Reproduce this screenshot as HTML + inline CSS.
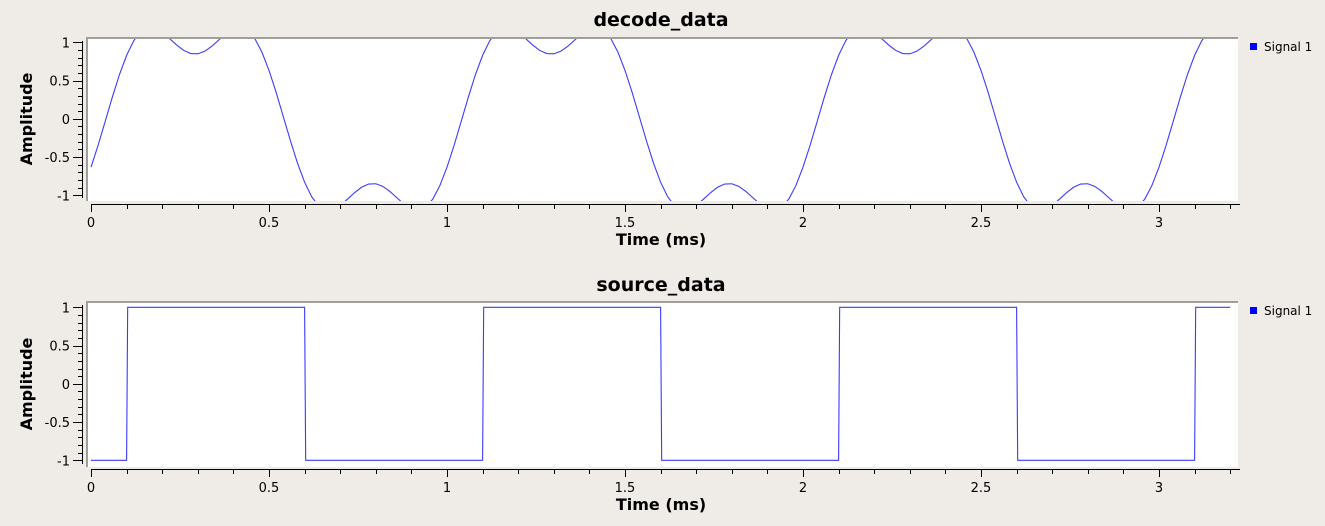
<!DOCTYPE html>
<html><head><meta charset="utf-8"><style>
html,body{margin:0;padding:0;background:#efebe7;}
svg{display:block;font-family:"DejaVu Sans","Liberation Sans",sans-serif;}
</style></head><body>
<svg id="chart" width="1325" height="526" viewBox="0 0 1325 526"></svg>
<script>
const decodePeriod = [-0.633,-0.346,-0.032,0.284,0.579,0.829,1.020,1.141,1.194,1.186,1.133,1.052,0.967,0.895,0.853,0.849,0.884,0.951,1.035,1.118,1.178,1.197,1.157,1.050,0.873,0.633,0.346,0.032,-0.284,-0.579,-0.829,-1.020,-1.141,-1.194,-1.186,-1.133,-1.052,-0.967,-0.895,-0.853,-0.849,-0.884,-0.951,-1.035,-1.118,-1.178,-1.197,-1.157,-1.050,-0.873];
const decodeStep = 0.02;
const decodeEnd = 3.2;
// source_data: square wave transitions (ms) and levels
const sourceTimes = [0, 0.1, 0.6, 1.1, 1.6, 2.1, 2.6, 3.1, 3.2];
const sourceLevels = [-1, 1, -1, 1, -1, 1, -1, 1];
const xTicks = [0, 0.5, 1, 1.5, 2, 2.5, 3];
const xTickLabels = ["0","0.5","1","1.5","2","2.5","3"];
const yTicks = [1, 0.5, 0, -0.5, -1];
const yTickLabels = ["1","0.5","0","-0.5","-1"];

const NS = "http://www.w3.org/2000/svg";
const svg = document.getElementById("chart");
function mk(tag, attrs, parent){const e=document.createElementNS(NS,tag);for(const k in attrs)e.setAttribute(k,attrs[k]);(parent||svg).appendChild(e);return e;}

function panel(cfg){
  const g = mk("g",{});
  
  
  const xS = t => 91 + t*356;
  const yS = v => cfg.y1 + (1 - v)/2*(cfg.ym1 - cfg.y1);
  const title = mk("text",{x:661,y:cfg.titleY,"text-anchor":"middle","font-size":"19","font-weight":"bold",fill:"#000"},g);
  title.textContent = cfg.name;
  
  
  const bg = mk("rect",{x:86,y:cfg.top,width:1152,height:cfg.bot-cfg.top,fill:"#fff"},g);
  
  
  mk("line",{x1:86,y1:cfg.top+1,x2:1238,y2:cfg.top+1,stroke:"#a09e9a","stroke-width":2},g);
  mk("line",{x1:87,y1:cfg.top,x2:87,y2:cfg.bot,stroke:"#a09e9a","stroke-width":2},g);
  const xa = mk("g",{},g);
  
  
  mk("line",{x1:91,y1:cfg.axisY+0.5,x2:1240,y2:cfg.axisY+0.5,stroke:"#000","stroke-width":1},xa);
  for(let i=0;i<=32;i++){const t=i/10;const major=i%5===0;const x=Math.round(xS(t))+0.5;
    mk("line",{x1:x,y1:cfg.axisY,x2:x,y2:cfg.axisY+(major?8:5),stroke:"#000","stroke-width":1},xa);}
  xTicks.forEach((t,i)=>{const l=mk("text",{x:xS(t),y:cfg.axisY+23,"text-anchor":"middle","font-size":"13",fill:"#000"},xa);l.textContent=xTickLabels[i];
    
    });
  const xt = mk("text",{x:661,y:cfg.axisY+41,"text-anchor":"middle","font-size":"16","font-weight":"bold",fill:"#000"},g);
  xt.textContent="Time (ms)";
  
  
  const ya = mk("g",{},g);
  
  
  mk("line",{x1:82.5,y1:cfg.top+4,x2:82.5,y2:cfg.bot-3,stroke:"#000","stroke-width":1},ya);
  for(let i=-10;i<=10;i++){const v=i/10;const major=i%5===0;const y=Math.round(yS(v))+0.5;
    mk("line",{x1:major?73:78,y1:y,x2:83,y2:y,stroke:"#000","stroke-width":1},ya);}
  yTicks.forEach((v,i)=>{const l=mk("text",{x:70,y:yS(v)+5,"text-anchor":"end","font-size":"13",fill:"#000"},ya);l.textContent=yTickLabels[i];
    
    });
  const yt = mk("text",{x:0,y:0,transform:`translate(32,${(cfg.top+cfg.bot)/2}) rotate(-90)`,"text-anchor":"middle","font-size":"16","font-weight":"bold",fill:"#000"},g);
  yt.textContent="Amplitude";
  
  
  const cp = mk("clipPath",{id:"clip-"+cfg.name},g);
  mk("rect",{x:88,y:cfg.top+2,width:1150,height:cfg.bot-cfg.top-2},cp);
  const pts = cfg.points.map(p=>xS(p[0]).toFixed(2)+","+yS(p[1]).toFixed(2)).join(" ");
  const pl = mk("polyline",{points:pts,fill:"none",stroke:"#3a3aff","stroke-width":1.1,"clip-path":`url(#clip-${cfg.name})`},g);
  
  
  const lg = mk("g",{},g);
  
  
  mk("rect",{x:1250,y:cfg.top+6,width:7,height:7,fill:"#0000ff"},lg);
  const lt = mk("text",{x:1264,y:cfg.top+14,"font-size":"12",fill:"#000"},lg);
  lt.textContent="Signal 1";
}

const decodePts = [];
const nDec = Math.round(decodeEnd/decodeStep);
for(let i=0;i<=nDec;i++){decodePts.push([i*decodeStep, decodePeriod[i%decodePeriod.length]]);}
const sourcePts = [];
for(let i=0;i<sourceLevels.length;i++){sourcePts.push([sourceTimes[i]+(i?0.003:0), sourceLevels[i]]);sourcePts.push([sourceTimes[i+1], sourceLevels[i]]);}

panel({name:"decode_data",titleY:26,top:37,bot:201,y1:42.3,ym1:195.3,axisY:204,points:decodePts});
panel({name:"source_data",titleY:291,top:301,bot:467,y1:307.3,ym1:460.3,axisY:469,points:sourcePts});
</script>
</body></html>
